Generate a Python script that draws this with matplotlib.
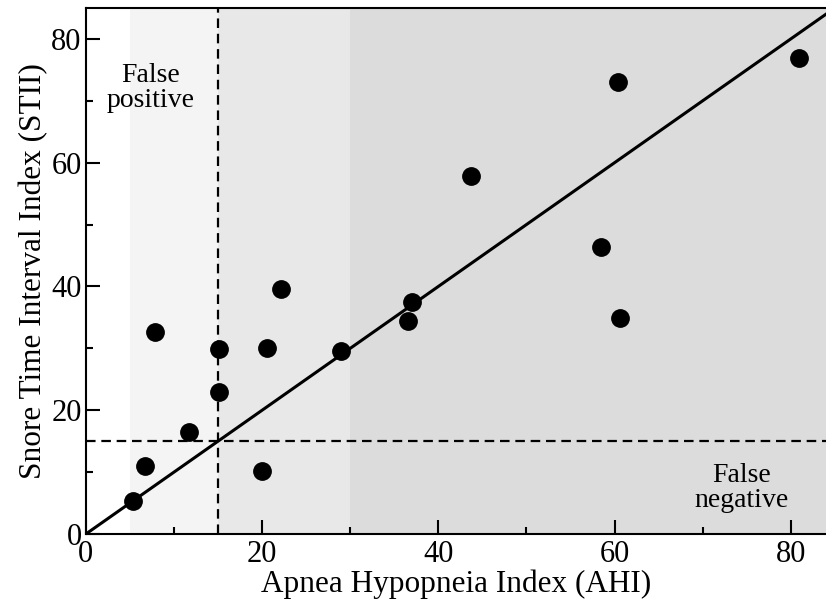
import matplotlib
matplotlib.use("Agg")
import matplotlib.pyplot as plt
from matplotlib.ticker import MultipleLocator

ahi = [5.3, 6.7, 7.8, 11.7, 15.1, 15.1, 20.0, 20.5, 22.1, 28.9, 37.0, 36.6, 43.7, 58.5, 60.4, 60.6, 80.9]
stii = [5.3, 11.0, 32.6, 16.5, 29.9, 22.9, 10.2, 30.1, 39.6, 29.6, 37.5, 34.4, 57.9, 46.4, 73.1, 34.9, 76.9]

region_edges = [5, 15, 30, 84]
region_colors = ["#f4f4f4", "#e8e8e8", "#dcdcdc"]
threshold = 15
xmax, ymax = 84, 85

plt.rcParams['font.family'] = ['Liberation Serif', 'DejaVu Serif']

fig = plt.figure(figsize=(8.26, 6.01), dpi=100)
ax = fig.add_axes([0.104, 0.1115, 0.896, 0.8752])

for i, c in enumerate(region_colors):
    ax.axvspan(region_edges[i], region_edges[i + 1], color=c, lw=0, zorder=0)

ax.plot([0, xmax], [0, xmax], color='black', lw=2.2, zorder=2)
ax.axvline(threshold, color='black', lw=1.6, ls=(0, (4.3, 2.6)), zorder=2)
ax.axhline(threshold, color='black', lw=1.6, ls=(0, (4.3, 2.6)), zorder=2)
ax.plot(ahi, stii, 'o', color='black', ms=12.5, zorder=3)

ax.text(7.3, 72, "False\npositive", ha='center', va='center', fontsize=20, linespacing=1.0)
ax.text(74.4, 7.4, "False\nnegative", ha='center', va='center', fontsize=20, linespacing=1.0)

ax.set_xlim(0, xmax)
ax.set_ylim(0, ymax)
ax.xaxis.set_major_locator(MultipleLocator(20))
ax.xaxis.set_minor_locator(MultipleLocator(10))
ax.yaxis.set_major_locator(MultipleLocator(20))
ax.yaxis.set_minor_locator(MultipleLocator(10))
ax.tick_params(which='both', direction='in', width=1.5, labelsize=22, top=False, right=False)
ax.tick_params(axis='x', which='major', length=10, pad=4)
ax.tick_params(axis='y', which='major', length=10, pad=3)
ax.tick_params(which='minor', length=5)
for s in ['left', 'bottom', 'top']:
    ax.spines[s].set_linewidth(1.5)
ax.spines['right'].set_visible(False)

ax.set_xlabel("Apnea Hypopneia Index (AHI)", fontsize=22.5, labelpad=1)
ax.set_ylabel("Snore Time Interval Index (STII)", fontsize=22.5, labelpad=2)

fig.savefig("out.png", dpi=100)
